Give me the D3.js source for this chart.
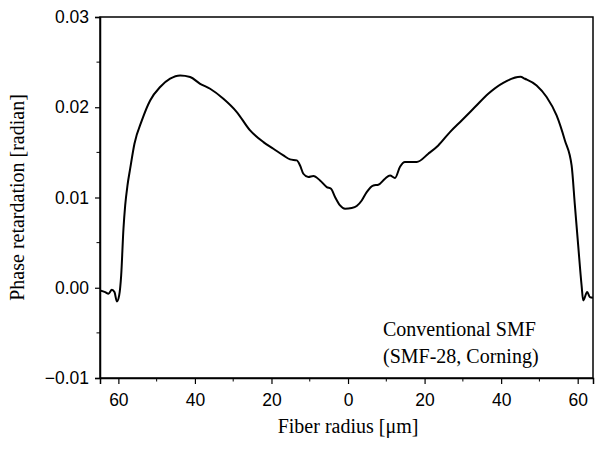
<!DOCTYPE html>
<html>
<head>
<meta charset="utf-8">
<script src="https://cdn.jsdelivr.net/npm/d3@7"></script>
<style>
  body { margin: 0; background: #fff; }
  svg { display: block; }
</style>
</head>
<body>
<div id="chart"></div>
<script>
// radius in um (left side negative), retardation in radian
var radius = [-64.75, -63.45, -62.58, -61.70, -61.02, -60.39, -59.79, -59.27, -58.67, -58.22,
  -57.62, -56.92, -55.80, -53.86, -51.70, -49.09, -46.48, -43.86, -41.25, -38.64,
  -36.03, -32.56, -29.06, -25.59, -22.11, -19.50, -16.89, -15.14, -13.39, -12.53,
  -11.67, -10.37, -9.06, -7.31, -5.56, -4.44, -3.39, -2.09, -0.78, 0.97,
  2.27, 3.58, 4.88, 6.61, 7.91, 9.66, 10.97, 12.27, 13.58, 14.88,
  17.94, 20.97, 23.58, 26.63, 29.69, 33.16, 36.63, 40.55, 45.04, 46.21,
  49.27, 51.88, 54.49, 56.66, 58.41, 59.27, 60.13, 61.02, 61.44, 62.48,
  63.19, 63.97];
var retardation = [-0.0003, -0.00048, -0.00066, -0.00022, -0.00048, -0.00152, -0.00085, 0.00136, 0.00654, 0.00912,
  0.01134, 0.01319, 0.01596, 0.01854, 0.02075, 0.02224, 0.02316, 0.02352, 0.02335, 0.02260,
  0.02205, 0.02094, 0.01947, 0.01743, 0.01614, 0.01540, 0.01466, 0.01422, 0.01411, 0.01355,
  0.01263, 0.01227, 0.01238, 0.01189, 0.01116, 0.01097, 0.01005, 0.00912, 0.00875, 0.00883,
  0.00905, 0.00967, 0.01060, 0.01134, 0.01141, 0.01208, 0.01244, 0.01216, 0.01341, 0.01393,
  0.01393, 0.01485, 0.01577, 0.01725, 0.01854, 0.02002, 0.02150, 0.02271, 0.02337, 0.02316,
  0.02242, 0.02113, 0.01909, 0.01632, 0.01355, 0.00912, 0.00469, 0.00025, -0.00141, -0.00048,
  -0.00103, -0.0011];

var xTicks = [-60, -40, -20, 0, 20, 40, 60];
var xMinorTicks = [-50, -30, -10, 10, 30, 50];
var yTicks = [-0.01, 0.00, 0.01, 0.02, 0.03];
var yMinorTicks = [-0.005, 0.005, 0.015, 0.025];
var xTitle = "Fiber radius [\u03bcm]";
var yTitle = "Phase retardation [radian]";
var noteLines = ["Conventional SMF", "(SMF-28, Corning)"];

var totalWidth = 595, totalHeight = 450;
var margin = { top: 17, right: 2, bottom: 72, left: 100 };
var width = totalWidth - margin.left - margin.right,
    height = totalHeight - margin.top - margin.bottom;

var svg = d3.select("#chart").append("svg")
    .attr("width", totalWidth)
    .attr("height", totalHeight);

var g = svg.append("g")
    .attr("transform", "translate(" + margin.left + "," + margin.top + ")");

var xScale = d3.scaleLinear().domain([-64.8, 64.0]).range([0, width]);
var yScale = d3.scaleLinear().domain([-0.01, 0.03]).range([height, 0]);

// frame (top and right)
g.append("rect")
    .attr("x", 0).attr("y", 0)
    .attr("width", width).attr("height", height)
    .attr("fill", "none")
    .attr("stroke", "#000")
    .attr("stroke-width", 1.5);

// bottom axis
var xAxis = g.append("g")
    .attr("transform", "translate(0," + height + ")")
    .call(d3.axisBottom(xScale).tickValues(xTicks).tickSize(6).tickPadding(10)
        .tickFormat(function (d) { return Math.abs(d); }));
xAxis.append("g").selectAll("line")
    .data(xMinorTicks)
    .enter()
    .append("line")
    .attr("x1", function (d) { return xScale(d); })
    .attr("x2", function (d) { return xScale(d); })
    .attr("y1", 0).attr("y2", 3.5)
    .attr("stroke", "#000");

// left axis
var yAxis = g.append("g")
    .call(d3.axisLeft(yScale).tickValues(yTicks).tickSize(5).tickPadding(6)
        .tickFormat(d3.format(".2f")));
yAxis.append("g").selectAll("line")
    .data(yMinorTicks)
    .enter()
    .append("line")
    .attr("y1", function (d) { return yScale(d); })
    .attr("y2", function (d) { return yScale(d); })
    .attr("x1", 0).attr("x2", -3.5)
    .attr("stroke", "#000");

g.selectAll(".domain").attr("stroke", "#000").attr("stroke-width", 1.5);
g.selectAll(".tick line").attr("stroke", "#000").attr("stroke-width", 1.2);
g.selectAll(".tick text")
    .attr("fill", "#000")
    .style("font-family", "'Liberation Sans', Arial, sans-serif")
    .style("font-size", "17.5px");

// the profile
var line = d3.line()
    .x(function (d, i) { return xScale(radius[i]); })
    .y(function (d) { return yScale(d); })
    .curve(d3.curveMonotoneX);

g.append("path")
    .datum(retardation)
    .attr("d", line)
    .attr("fill", "none")
    .attr("stroke", "#000")
    .attr("stroke-width", 2);

// titles
svg.append("text")
    .attr("x", margin.left + xScale(0))
    .attr("y", 433)
    .attr("text-anchor", "middle")
    .style("font-family", "'Liberation Serif', 'Times New Roman', serif")
    .style("font-size", "20px")
    .text(xTitle);

svg.append("text")
    .attr("transform", "translate(24," + (margin.top + height / 2) + ") rotate(-90)")
    .attr("text-anchor", "middle")
    .style("font-family", "'Liberation Serif', 'Times New Roman', serif")
    .style("font-size", "20px")
    .text(yTitle);

svg.append("g").selectAll("text")
    .data(noteLines)
    .enter()
    .append("text")
    .attr("x", 383)
    .attr("y", function (d, i) { return 336 + i * 27; })
    .style("font-family", "'Liberation Serif', 'Times New Roman', serif")
    .style("font-size", "20px")
    .text(function (d) { return d; });
</script>
</body>
</html>
